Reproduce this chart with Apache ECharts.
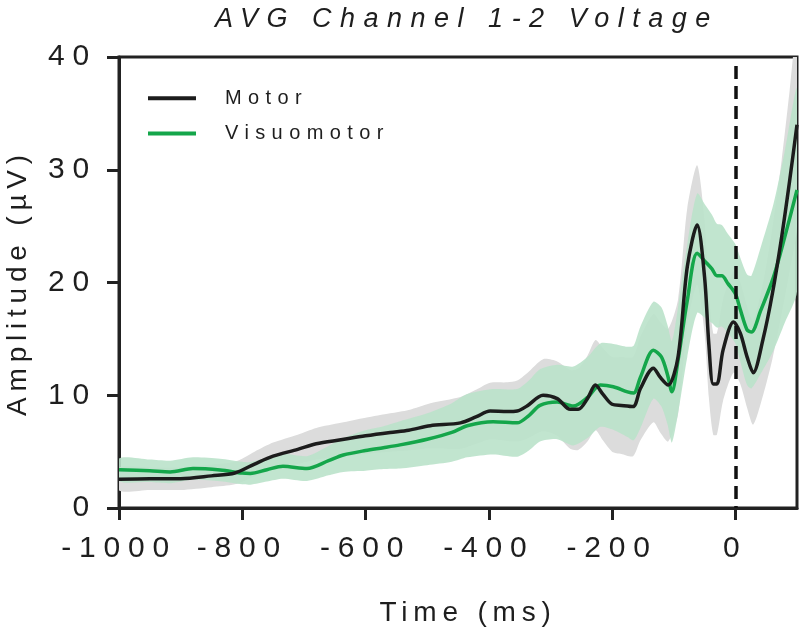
<!DOCTYPE html>
<html>
<head>
<meta charset="utf-8">
<script src="https://cdn.jsdelivr.net/npm/echarts@6/dist/echarts.min.js"></script>
<style>html,body{margin:0;padding:0;background:#fff}#c{width:800px;height:643px}</style>
</head>
<body>
<div id="c"></div>
<script>
// ---- data ----
const titleText = 'AVG Channel 1-2 Voltage';
const xName = 'Time (ms)';
const yName = 'Amplitude (µV)';
const seriesNames = ['Motor', 'Visuomotor'];
const xTicks = [-1000, -800, -600, -400, -200, 0];
const onsetTime = 0;
const dashTop = 39.2;

const motorTime = [-1000,-950,-900,-850,-812,-780,-750,-710,-680,-640,-600,-560,-530,-495,-446,-420,-398,-370,-354,-338,-312,-289,-268,-255,-240,-227,-215,-200,-185,-166,-154,-133,-122,-109,-93,-78,-62,-50,-43,-36,-30,-20,-3,8,19,29,45,60,75,88,100];
const motorMean = [2.55,2.6,2.6,2.85,3.1,3.9,4.6,5.2,5.7,6.05,6.4,6.7,6.9,7.3,7.55,8.1,8.6,8.55,8.6,9.05,10.0,9.7,8.75,8.75,9.7,10.9,10.1,9.2,9.1,9.0,10.6,12.4,11.6,10.9,13.4,21.4,25.1,20.5,14.5,11.0,11.0,14.0,16.5,15.5,13.4,12.0,15.0,19.0,24.0,29.0,34.0];
const motorSem  = [1.0,1.0,1.0,1.0,1.0,1.1,1.2,1.3,1.4,1.5,1.6,1.7,1.8,2.0,2.3,2.4,2.5,2.6,2.7,2.9,3.2,3.3,3.5,3.6,3.8,4.0,4.1,4.2,4.3,4.4,4.6,4.8,4.9,5.0,5.1,5.2,5.3,5.0,4.7,4.5,4.5,4.5,4.5,4.5,4.5,4.6,5.0,5.8,6.8,8.0,9.0];

const visuoTime = [-1000,-950,-917,-880,-836,-800,-787,-760,-734,-695,-660,-636,-600,-571,-544,-500,-460,-435,-393,-354,-335,-317,-289,-263,-240,-219,-198,-175,-165,-154,-133,-120,-110,-103,-93,-78,-62,-48,-38,-30,-22,-12,0,8,19,26,41,62,80,100];
const visuoMean = [3.4,3.3,3.2,3.5,3.37,3.1,3.07,3.4,3.7,3.5,4.2,4.7,5.1,5.35,5.6,6.1,6.7,7.3,7.65,7.55,8.2,9.1,9.4,9.05,9.8,10.9,10.75,10.3,10.2,11.6,14.0,13.4,11.8,10.3,13.1,18.4,22.6,21.8,21.2,20.6,20.6,19.9,19.0,17.6,15.8,15.6,17.5,20.5,24.0,28.2];
const visuoSem  = [1.0,1.0,1.0,1.0,1.0,1.0,1.0,1.05,1.1,1.1,1.3,1.5,1.8,1.9,2.1,2.3,2.6,2.8,2.9,3.0,3.1,3.2,3.3,3.5,3.6,3.7,3.8,4.0,4.2,4.5,4.3,4.4,4.4,4.5,4.7,5.0,5.3,5.0,4.8,4.6,4.5,4.4,4.4,4.6,4.9,5.0,5.6,6.5,7.6,9.0];

// ---- letter-spaced text (the reference uses spaced-out lettering) ----
(function () {
  const proto = window.CanvasRenderingContext2D && CanvasRenderingContext2D.prototype;
  if (!proto || !('letterSpacing' in proto)) return;
  const d = Object.getOwnPropertyDescriptor(proto, 'font');
  if (!d) return;
  const SPACING = {27: 8.5, 28: 5.8, 30: 7.8, 20: 6.4};
  Object.defineProperty(proto, 'font', {
    configurable: true,
    get() { return d.get.call(this); },
    set(v) {
      d.set.call(this, v);
      const m = /(\d+(?:\.\d+)?)px/.exec(v);
      const s = m ? Math.round(parseFloat(m[1])) : 0;
      this.letterSpacing = (SPACING[s] || 0) + 'px';
    }
  });
})();

const FONT = 'Liberation Sans, Arial, Helvetica, sans-serif';
const INK = '#1e1e1e';
const BLACK = '#1c1c1c';
const GREEN = '#14a64a';

function pairs(t, v) { return t.map((x, i) => [x, v[i]]); }

function bandSeries(t, m, s, fill, z) {
  return {
    type: 'custom', silent: true, clip: true, z: z,
    data: [[t[0], m[0]]],
    renderItem: function (params, api) {
      const up = t.map((x, i) => api.coord([x, m[i] + s[i]]));
      const lo = t.map((x, i) => api.coord([x, m[i] - s[i]])).reverse();
      const cs = params.coordSys;
      return {
        type: 'group',
        children: [{
          type: 'polygon',
          shape: {points: up.concat(lo), smooth: 0.25},
          style: {fill: fill, stroke: null}
        }],
        clipPath: {type: 'rect', shape: {x: cs.x, y: cs.y, width: cs.width, height: cs.height}}
      };
    }
  };
}

const chart = echarts.init(document.getElementById('c'), null, {renderer: 'canvas'});
chart.setOption({
  animation: false,
  backgroundColor: '#fff',
  title: {
    text: titleText,
    left: 215, top: 2, padding: 0,
    textStyle: {fontFamily: FONT, fontSize: 27, fontStyle: 'italic', fontWeight: 'normal', color: INK}
  },
  legend: {
    data: seriesNames,
    orient: 'vertical',
    left: 143, top: 80,
    icon: 'rect', itemWidth: 48, itemHeight: 4, itemGap: 9,
    textStyle: {fontFamily: FONT, fontSize: 20, color: INK, lineHeight: 22, padding: [0, 0, 0, 24]}
  },
  grid: {
    left: 119, right: 3, top: 57, bottom: 135,
    outerBoundsMode: 'none',
    show: true, borderColor: '#222', borderWidth: 3, backgroundColor: 'transparent'
  },
  xAxis: {
    type: 'value', min: -1000, max: 100, interval: 200,
    name: xName, nameLocation: 'middle', nameGap: 88,
    nameTextStyle: {fontFamily: FONT, fontSize: 28, color: INK, padding: [0, 0, 0, 20]},
    axisLine: {show: true, onZero: false, lineStyle: {color: '#222', width: 3}},
    axisTick: {show: true, length: 12, customValues: xTicks, lineStyle: {color: '#222', width: 3}},
    axisLabel: {customValues: xTicks, margin: 22, fontFamily: FONT, fontSize: 30, color: INK,
      formatter: function (v) { return String(v); }},
    splitLine: {show: false}
  },
  yAxis: {
    type: 'value', min: 0, max: 40, interval: 10,
    name: yName, nameLocation: 'middle', nameGap: 84, nameRotate: 90,
    nameTextStyle: {fontFamily: FONT, fontSize: 28, color: INK},
    axisLine: {show: true, onZero: false, lineStyle: {color: '#222', width: 3}},
    axisTick: {show: true, length: 12, lineStyle: {color: '#222', width: 3}},
    axisLabel: {margin: 22, fontFamily: FONT, fontSize: 30, color: INK},
    splitLine: {show: false}
  },
  series: [
    bandSeries(motorTime, motorMean, motorSem, '#dcdcdc', 1),
    bandSeries(visuoTime, visuoMean, visuoSem, 'rgba(186,226,202,0.9)', 2),
    {
      name: seriesNames[1], type: 'line', data: pairs(visuoTime, visuoMean),
      smooth: 0.3, symbol: 'none', showSymbol: false, z: 3,
      itemStyle: {color: GREEN}, lineStyle: {color: GREEN, width: 3.5}
    },
    {
      name: seriesNames[0], type: 'line', data: pairs(motorTime, motorMean),
      smooth: 0.3, symbol: 'none', showSymbol: false, z: 4,
      itemStyle: {color: BLACK}, lineStyle: {color: BLACK, width: 3.5},
      markLine: {
        silent: true, symbol: ['none', 'none'], label: {show: false},
        lineStyle: {color: '#111', width: 3.5, type: [13, 7]},
        data: [[{coord: [onsetTime, dashTop]}, {coord: [onsetTime, 0]}]]
      }
    }
  ]
});
</script>
</body>
</html>
